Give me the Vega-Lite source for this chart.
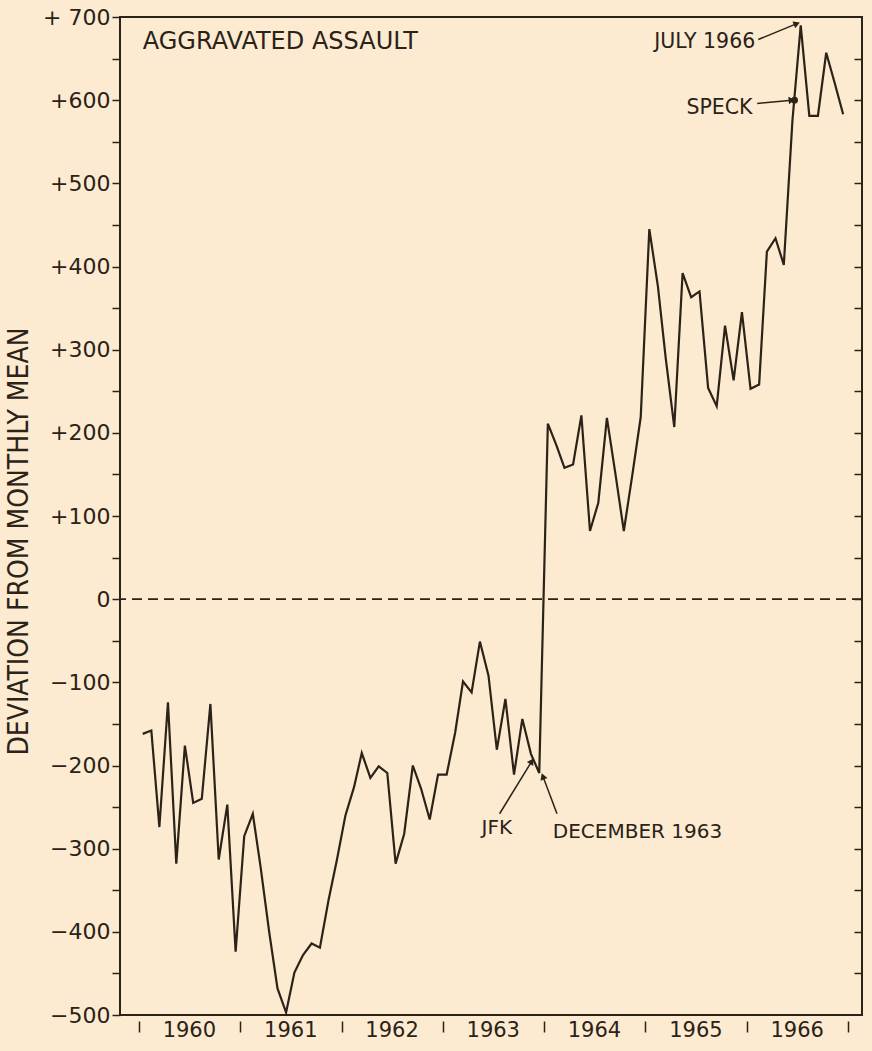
{
  "$schema": "https://vega.github.io/schema/vega-lite/v6.json",
  "width": 742,
  "height": 998,
  "autosize": {"type": "none"},
  "padding": {"left": 120, "top": 17, "right": 10, "bottom": 36},
  "background": "#fcebd1",
  "config": {
    "font": "DejaVu Sans",
    "view": {"stroke": "#2b2218", "strokeWidth": 2},
    "axis": {"grid": false, "domain": false, "labelColor": "#2b2218", "tickColor": "#2b2218", "titleColor": "#2b2218"}
  },
  "datasets": {
    "series": [
      {"date": "1960-01-15", "value": -162}, {"date": "1960-02-15", "value": -158}, {"date": "1960-03-15", "value": -274},
      {"date": "1960-04-15", "value": -124}, {"date": "1960-05-15", "value": -318}, {"date": "1960-06-15", "value": -176},
      {"date": "1960-07-15", "value": -245}, {"date": "1960-08-15", "value": -240}, {"date": "1960-09-15", "value": -126},
      {"date": "1960-10-15", "value": -313}, {"date": "1960-11-15", "value": -247}, {"date": "1960-12-15", "value": -424},
      {"date": "1961-01-15", "value": -285}, {"date": "1961-02-15", "value": -258}, {"date": "1961-03-15", "value": -322},
      {"date": "1961-04-15", "value": -400}, {"date": "1961-05-15", "value": -468}, {"date": "1961-06-15", "value": -497},
      {"date": "1961-07-15", "value": -449}, {"date": "1961-08-15", "value": -428}, {"date": "1961-09-15", "value": -414},
      {"date": "1961-10-15", "value": -419}, {"date": "1961-11-15", "value": -362}, {"date": "1961-12-15", "value": -314},
      {"date": "1962-01-15", "value": -260}, {"date": "1962-02-15", "value": -226}, {"date": "1962-03-15", "value": -185},
      {"date": "1962-04-15", "value": -215}, {"date": "1962-05-15", "value": -201}, {"date": "1962-06-15", "value": -209},
      {"date": "1962-07-15", "value": -318}, {"date": "1962-08-15", "value": -282}, {"date": "1962-09-15", "value": -200},
      {"date": "1962-10-15", "value": -228}, {"date": "1962-11-15", "value": -265}, {"date": "1962-12-15", "value": -211},
      {"date": "1963-01-15", "value": -211}, {"date": "1963-02-15", "value": -160}, {"date": "1963-03-15", "value": -99},
      {"date": "1963-04-15", "value": -112}, {"date": "1963-05-15", "value": -51}, {"date": "1963-06-15", "value": -92},
      {"date": "1963-07-15", "value": -181}, {"date": "1963-08-15", "value": -120}, {"date": "1963-09-15", "value": -211},
      {"date": "1963-10-15", "value": -144}, {"date": "1963-11-15", "value": -186}, {"date": "1963-12-15", "value": -209},
      {"date": "1964-01-15", "value": 211}, {"date": "1964-02-15", "value": 185}, {"date": "1964-03-15", "value": 158},
      {"date": "1964-04-15", "value": 162}, {"date": "1964-05-15", "value": 221}, {"date": "1964-06-15", "value": 82},
      {"date": "1964-07-15", "value": 116}, {"date": "1964-08-15", "value": 218}, {"date": "1964-09-15", "value": 150},
      {"date": "1964-10-15", "value": 82}, {"date": "1964-11-15", "value": 150}, {"date": "1964-12-15", "value": 219},
      {"date": "1965-01-15", "value": 445}, {"date": "1965-02-15", "value": 376}, {"date": "1965-03-15", "value": 290},
      {"date": "1965-04-15", "value": 207}, {"date": "1965-05-15", "value": 392}, {"date": "1965-06-15", "value": 363},
      {"date": "1965-07-15", "value": 370}, {"date": "1965-08-15", "value": 254}, {"date": "1965-09-15", "value": 232},
      {"date": "1965-10-15", "value": 329}, {"date": "1965-11-15", "value": 263}, {"date": "1965-12-15", "value": 345},
      {"date": "1966-01-15", "value": 253}, {"date": "1966-02-15", "value": 258}, {"date": "1966-03-15", "value": 418},
      {"date": "1966-04-15", "value": 434}, {"date": "1966-05-15", "value": 402}, {"date": "1966-06-15", "value": 575},
      {"date": "1966-07-15", "value": 690}, {"date": "1966-08-15", "value": 581}, {"date": "1966-09-15", "value": 581},
      {"date": "1966-10-15", "value": 657}, {"date": "1966-11-15", "value": 620}, {"date": "1966-12-15", "value": 583}
    ],
    "labelsLeft": [
      {"date": "1960-01-15", "value": 670, "label": "AGGRAVATED ASSAULT"},
      {"date": "1963-05-21", "value": -275, "label": "JFK"},
      {"date": "1964-02-02", "value": -280, "label": "DECEMBER 1963"}
    ],
    "labelsRight": [
      {"date": "1966-02-01", "value": 670, "label": "JULY 1966"},
      {"date": "1966-01-22", "value": 591, "label": "SPECK"}
    ],
    "arrows": [
      {"name": "JULY 1966", "date": "1966-02-12", "value": 673, "date2": "1966-07-01", "value2": 692},
      {"name": "SPECK", "date": "1966-02-08", "value": 596, "date2": "1966-06-13", "value2": 600},
      {"name": "JFK", "date": "1963-07-25", "value": -258, "date2": "1963-11-18", "value2": -195},
      {"name": "DECEMBER 1963", "date": "1964-02-17", "value": -258, "date2": "1963-12-28", "value2": -213}
    ],
    "speck": [{"date": "1966-06-23", "value": 600}]
  },
  "resolve": {"axis": {"y": "independent"}},
  "layer": [
    {
      "data": {"name": "series"},
      "mark": {"type": "line", "color": "#2b2218", "strokeWidth": 2.2, "strokeJoin": "miter"},
      "encoding": {
        "x": {
          "field": "date", "type": "temporal", "title": null,
          "scale": {"type": "utc", "domain": [{"year": 1959, "month": 10, "date": 25, "utc": true}, {"year": 1967, "month": 2, "date": 21, "utc": true}]},
          "axis": {
            "values": [
              {"year": 1960, "month": 1, "date": 1, "utc": true}, {"year": 1961, "month": 1, "date": 1, "utc": true},
              {"year": 1962, "month": 1, "date": 1, "utc": true}, {"year": 1963, "month": 1, "date": 1, "utc": true},
              {"year": 1964, "month": 1, "date": 1, "utc": true}, {"year": 1965, "month": 1, "date": 1, "utc": true},
              {"year": 1966, "month": 1, "date": 1, "utc": true}, {"year": 1967, "month": 1, "date": 1, "utc": true}
            ],
            "labelExpr": "utcyear(datum.value) < 1967 ? '' + utcyear(datum.value) : ''",
            "labelOffset": 50,
            "labelFontSize": 21,
            "labelPadding": -13,
            "labelBaseline": "top",
            "tickSize": 11,
            "tickWidth": 1.5,
            "offset": 6,
            "labelFlush": false,
            "labelOverlap": false
          }
        },
        "y": {
          "field": "value", "type": "quantitative",
          "scale": {"domain": [-500, 700], "nice": false, "zero": false},
          "axis": {
            "orient": "left",
            "values": [-500, -450, -400, -350, -300, -250, -200, -150, -100, -50, 0, 50, 100, 150, 200, 250, 300, 350, 400, 450, 500, 550, 600, 650, 700],
            "labelExpr": "datum.value % 100 != 0 ? '' : datum.value == 700 ? '+ 700' : datum.value > 0 ? '+' + datum.value : datum.value < 0 ? '\u2212' + abs(datum.value) : '0'",
            "labelFontSize": 22,
            "labelPadding": 2,
            "tickSize": 8,
            "tickWidth": 1.5,
            "labelOverlap": false,
            "labelFlush": false,
            "title": "DEVIATION FROM MONTHLY MEAN",
            "titleFont": "'Liberation Sans Narrow', 'DejaVu Sans Condensed', 'DejaVu Sans'",
            "titleFontSize": 28,
            "titleFontWeight": "normal",
            "titleX": -101,
            "titleY": 524,
            "titleAngle": 270,
            "titleAlign": "center",
            "titleBaseline": "middle"
          }
        }
      }
    },
    {
      "data": {"name": "speck"},
      "mark": {"type": "point", "filled": true, "color": "#2b2218", "size": 45, "opacity": 1},
      "encoding": {
        "x": {"field": "date", "type": "temporal", "title": null},
        "y": {
          "field": "value", "type": "quantitative", "title": null,
          "axis": {
            "orient": "right",
            "values": [-450, -400, -350, -300, -250, -200, -150, -100, -50, 0, 50, 100, 150, 200, 250, 300, 350, 400, 450, 500, 550, 600, 650],
            "labels": false,
            "tickSize": -8,
            "tickWidth": 1.5,
            "title": null
          }
        }
      }
    },
    {
      "data": {"values": [{}]},
      "mark": {"type": "rule", "color": "#2b2218", "strokeWidth": 1.6, "strokeDash": [10, 6]},
      "encoding": {"y": {"datum": 0, "axis": null}}
    },
    {
      "data": {"name": "labelsLeft"},
      "transform": [{"filter": "datum.label == 'AGGRAVATED ASSAULT'"}],
      "mark": {"type": "text", "align": "left", "baseline": "middle", "fontSize": 24, "color": "#2b2218"},
      "encoding": {
        "x": {"field": "date", "type": "temporal", "title": null},
        "y": {"field": "value", "type": "quantitative", "axis": null},
        "text": {"field": "label"}
      }
    },
    {
      "data": {"name": "labelsLeft"},
      "transform": [{"filter": "datum.label != 'AGGRAVATED ASSAULT'"}],
      "mark": {"type": "text", "align": "left", "baseline": "middle", "fontSize": 20, "color": "#2b2218"},
      "encoding": {
        "x": {"field": "date", "type": "temporal", "title": null},
        "y": {"field": "value", "type": "quantitative", "axis": null},
        "text": {"field": "label"}
      }
    },
    {
      "data": {"name": "labelsRight"},
      "mark": {"type": "text", "align": "right", "baseline": "middle", "fontSize": 20.5, "color": "#2b2218"},
      "encoding": {
        "x": {"field": "date", "type": "temporal", "title": null},
        "y": {"field": "value", "type": "quantitative", "axis": null},
        "text": {"field": "label"}
      }
    },
    {
      "data": {"name": "arrows"},
      "mark": {"type": "rule", "color": "#2b2218", "strokeWidth": 1.5},
      "encoding": {
        "x": {"field": "date", "type": "temporal", "title": null},
        "x2": {"field": "date2"},
        "y": {"field": "value", "type": "quantitative", "axis": null},
        "y2": {"field": "value2"}
      }
    },
    {
      "data": {"name": "arrows"},
      "transform": [{"filter": "datum.name == 'JULY 1966'"}],
      "mark": {"type": "point", "shape": "triangle-up", "filled": true, "color": "#2b2218", "size": 55, "angle": 68, "opacity": 1},
      "encoding": {
        "x": {"field": "date2", "type": "temporal", "title": null},
        "y": {"field": "value2", "type": "quantitative", "axis": null}
      }
    },
    {
      "data": {"name": "arrows"},
      "transform": [{"filter": "datum.name == 'SPECK'"}],
      "mark": {"type": "point", "shape": "triangle-up", "filled": true, "color": "#2b2218", "size": 55, "angle": 84, "opacity": 1},
      "encoding": {
        "x": {"field": "date2", "type": "temporal", "title": null},
        "y": {"field": "value2", "type": "quantitative", "axis": null}
      }
    },
    {
      "data": {"name": "arrows"},
      "transform": [{"filter": "datum.name == 'JFK'"}],
      "mark": {"type": "point", "shape": "triangle-up", "filled": true, "color": "#2b2218", "size": 55, "angle": 32, "opacity": 1},
      "encoding": {
        "x": {"field": "date2", "type": "temporal", "title": null},
        "y": {"field": "value2", "type": "quantitative", "axis": null}
      }
    },
    {
      "data": {"name": "arrows"},
      "transform": [{"filter": "datum.name == 'DECEMBER 1963'"}],
      "mark": {"type": "point", "shape": "triangle-up", "filled": true, "color": "#2b2218", "size": 55, "angle": 339, "opacity": 1},
      "encoding": {
        "x": {"field": "date2", "type": "temporal", "title": null},
        "y": {"field": "value2", "type": "quantitative", "axis": null}
      }
    }
  ]
}
